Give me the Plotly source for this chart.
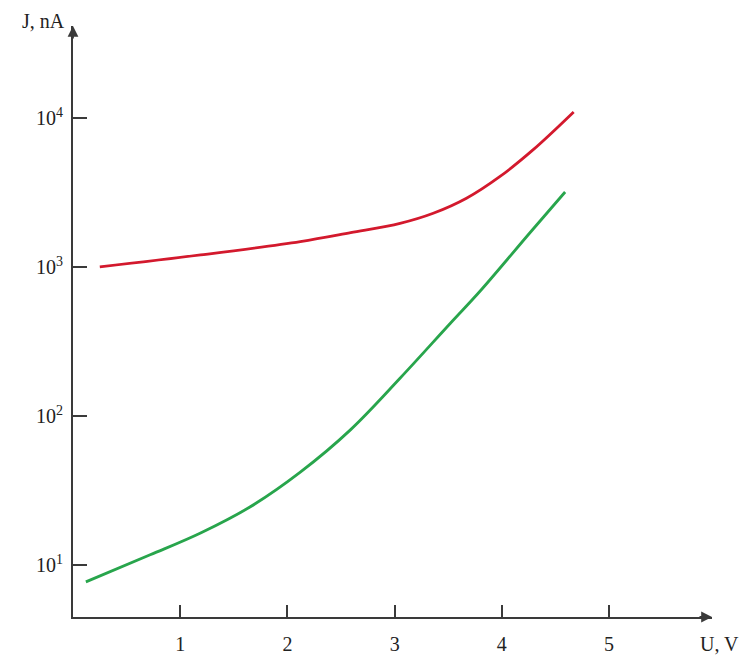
import plotly.graph_objects as go

# Data
u_red = [0.25, 1.19, 2.12, 2.59, 3.05, 3.36, 3.67, 3.98, 4.29, 4.67]
j_red = [1000, 1204, 1479, 1698, 1960, 2291, 2890, 4034, 6100, 10970]

u_green = [0.12, 0.72, 1.19, 1.65, 2.12, 2.59, 3.05, 3.52, 3.80, 4.26, 4.59]
j_green = [7.7, 11.7, 16.4, 24.5, 42, 81, 179, 419, 692, 1690, 3185]

x_ticks = [1, 2, 3, 4, 5]
y_ticks = [10, 100, 1000, 10000]
y_tick_text = ["10<sup>1</sup>", "10<sup>2</sup>", "10<sup>3</sup>", "10<sup>4</sup>"]

FONT = "Liberation Serif, Times New Roman, serif"
AX = "#3a3a3a"

fig = go.Figure()
fig.add_trace(go.Scatter(x=u_red, y=j_red, mode="lines",
                         line=dict(color="#d3192d", width=2.8, shape="spline", smoothing=1.0),
                         showlegend=False))
fig.add_trace(go.Scatter(x=u_green, y=j_green, mode="lines",
                         line=dict(color="#28a54c", width=2.8, shape="spline", smoothing=1.0),
                         showlegend=False))

fig.update_layout(
    width=747, height=658,
    margin=dict(l=73, r=35, t=26, b=41),
    paper_bgcolor="white", plot_bgcolor="white",
    font=dict(family=FONT, size=20, color="#222"),
    xaxis=dict(range=[0, 5.96], tickvals=x_ticks, ticks="inside", ticklen=12, tickwidth=1.5,
               tickcolor=AX, showline=True, linecolor=AX, linewidth=2, showgrid=False,
               zeroline=False, ticklabelstandoff=8, automargin=False,
               tickfont=dict(family=FONT, size=20, color="#222")),
    yaxis=dict(type="log", range=[0.651, 4.617], tickvals=y_ticks, ticktext=y_tick_text,
               ticks="inside", ticklen=14, tickwidth=1.5, tickcolor=AX, showline=True,
               linecolor=AX, linewidth=2, showgrid=False, zeroline=False, automargin=False,
               ticklabelstandoff=4, tickfont=dict(family=FONT, size=20, color="#222")),
)

# Axis arrowheads
fig.add_annotation(xref="paper", yref="paper", x=1, y=0, ax=-14, ay=0, text="",
                   showarrow=True, arrowhead=2, arrowsize=1.2, arrowwidth=1.8, arrowcolor=AX)
fig.add_annotation(xref="paper", yref="paper", x=0, y=1, ax=0, ay=14, text="",
                   showarrow=True, arrowhead=2, arrowsize=1.2, arrowwidth=1.8, arrowcolor=AX)

# Axis titles
fig.add_annotation(xref="paper", yref="paper", x=0, y=1, xanchor="right", yanchor="bottom",
                   xshift=-6, yshift=-8, text="J, nA", showarrow=False,
                   font=dict(family=FONT, size=20, color="#222"))
fig.add_annotation(xref="paper", yref="paper", x=1, y=0, xanchor="left", yanchor="top",
                   xshift=-14, yshift=-14, text="U, V", showarrow=False,
                   font=dict(family=FONT, size=20, color="#222"))

fig.write_html("out.html", config={"displayModeBar": False})

# Remove the default page margin so the figure sits at the window's top-left corner
with open("out.html", encoding="utf-8") as f:
    html = f.read()
html = html.replace("<head>", "<head><style>html,body{margin:0;padding:0;overflow:hidden;}</style>", 1)
with open("out.html", "w", encoding="utf-8") as f:
    f.write(html)
